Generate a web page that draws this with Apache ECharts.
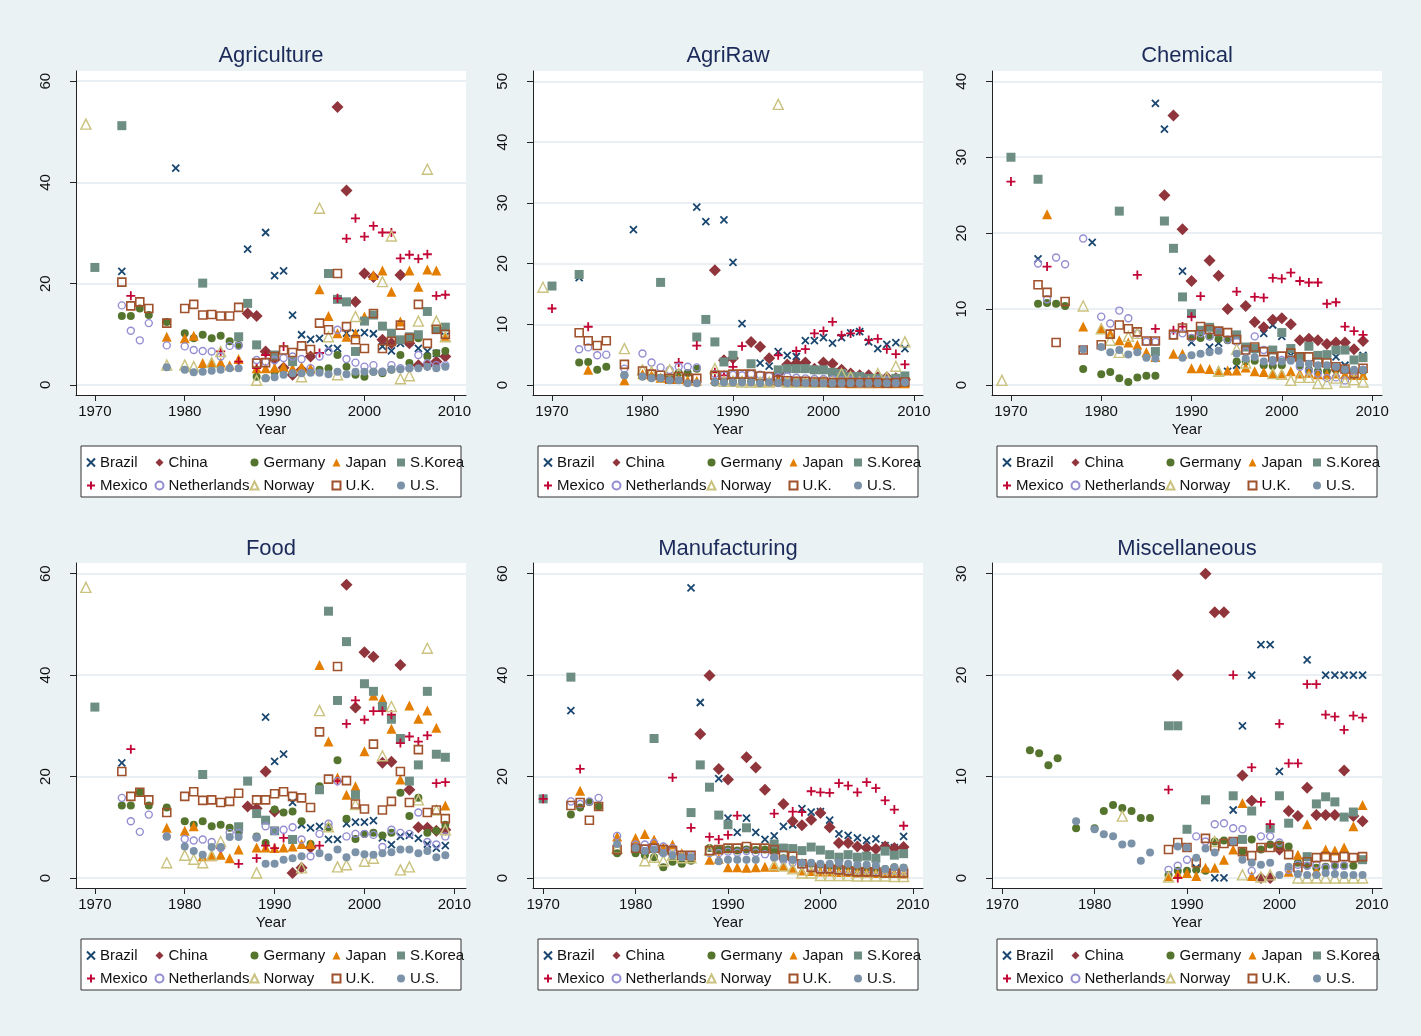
<!DOCTYPE html>
<html>
<head>
<meta charset="utf-8">
<script src="https://cdn.jsdelivr.net/npm/echarts@6/dist/echarts.min.js"></script>
<style>
  html, body { margin: 0; padding: 0; background: #eaf2f3; }
  #main { width: 1421px; height: 1036px; }
</style>
</head>
<body>
<div id="main"></div>
<script type="text/javascript">
// ---- data: [year, value] pairs ----
const panels = ['Agriculture', 'AgriRaw', 'Chemical', 'Food', 'Manufacturing', 'Miscellaneous'];
const countries = ['Brazil', 'China', 'Germany', 'Japan', 'S.Korea', 'Mexico', 'Netherlands', 'Norway', 'U.K.', 'U.S.'];
const xTicks = [1970, 1980, 1990, 2000, 2010];
const yTicks = [[0, 20, 40, 60], [0, 10, 20, 30, 40, 50], [0, 10, 20, 30, 40], [0, 20, 40, 60], [0, 20, 40, 60], [0, 10, 20, 30]];

// Agriculture
const agr_brazil = [[1973,22.4],[1979,42.8],[1987,26.8],[1989,30.1],[1990,21.6],[1991,22.5],[1992,13.8],[1993,9.9],[1994,9.0],[1995,9.2],[1996,7.2],[1997,7.2],[1998,10.2],[1999,10.2],[2000,10.3],[2001,10.1],[2002,7.6],[2003,6.7],[2004,8.2],[2005,8.4],[2006,7.2],[2007,6.6],[2008,6.2],[2009,9.6]];
const agr_china = [[1987,14.1],[1988,13.6],[1989,6.6],[1990,5.0],[1991,3.4],[1992,2.0],[1993,3.0],[1994,5.6],[1997,54.9],[1998,38.4],[1999,16.4],[2000,22.0],[2001,21.3],[2002,8.9],[2003,8.2],[2004,21.7],[2005,8.2],[2006,3.9],[2007,3.9],[2008,4.6],[2009,5.6]];
const agr_germany = [[1973,13.6],[1974,13.6],[1975,15.1],[1976,13.8],[1978,12.4],[1980,10.2],[1981,9.2],[1982,9.9],[1983,9.2],[1984,9.7],[1985,8.6],[1986,7.9],[1988,1.6],[1989,1.3],[1990,2.6],[1991,3.0],[1992,2.3],[1993,2.8],[1994,2.6],[1995,3.0],[1996,3.3],[1997,5.9],[1998,3.6],[1999,2.0],[2000,1.6],[2001,2.6],[2002,2.3],[2003,3.0],[2004,5.9],[2005,4.3],[2006,9.2],[2007,5.6],[2008,6.3],[2009,6.7]];
const agr_japan = [[1978,9.5],[1980,9.2],[1981,9.7],[1982,4.3],[1983,4.4],[1984,4.4],[1985,3.9],[1986,5.1],[1988,3.3],[1989,3.3],[1990,3.4],[1991,3.6],[1992,3.3],[1993,3.6],[1994,3.3],[1995,18.9],[1996,13.6],[1997,10.2],[1998,9.5],[1999,10.2],[2000,13.5],[2001,21.7],[2002,22.6],[2003,18.4],[2004,12.5],[2005,22.6],[2006,19.4],[2007,22.8],[2008,22.6],[2009,9.7]];
const agr_skorea = [[1970,23.2],[1973,51.2],[1982,20.1],[1986,9.5],[1987,16.1],[1988,7.9],[1990,5.9],[1992,4.6],[1996,22.0],[1997,16.9],[1998,16.4],[1999,6.6],[2000,12.6],[2001,13.8],[2002,11.6],[2003,10.2],[2004,8.9],[2005,9.5],[2006,9.9],[2007,14.5],[2008,10.9],[2009,11.4]];
const agr_mexico = [[1974,17.6],[1984,6.6],[1986,4.6],[1988,3.3],[1989,5.9],[1991,7.6],[1995,6.3],[1997,17.1],[1998,28.9],[1999,32.9],[2000,29.3],[2001,31.4],[2002,30.1],[2003,30.1],[2004,25.0],[2005,25.7],[2006,24.9],[2007,25.8],[2008,17.6],[2009,17.8]];
const agr_netherlands = [[1973,15.7],[1974,10.7],[1975,8.8],[1976,12.2],[1978,7.8],[1980,7.6],[1981,6.9],[1982,6.7],[1983,6.6],[1984,5.6],[1985,7.7],[1986,7.7],[1988,4.9],[1989,4.6],[1990,4.9],[1991,5.3],[1992,5.6],[1993,5.1],[1994,3.3],[1995,5.6],[1996,6.6],[1997,10.9],[1998,5.1],[1999,4.4],[2000,3.6],[2001,3.9],[2002,2.6],[2003,3.9],[2004,3.3],[2005,3.3],[2006,5.9],[2007,4.3],[2008,3.9],[2009,3.9]];
const agr_norway = [[1969,51.5],[1978,3.9],[1980,3.9],[1981,3.6],[1983,4.4],[1984,6.6],[1988,0.9],[1993,1.6],[1995,34.9],[1996,9.5],[1997,2.0],[1999,13.5],[2002,20.4],[2003,29.4],[2004,1.2],[2005,1.8],[2006,12.6],[2007,42.6],[2008,12.6],[2009,9.5]];
const agr_uk = [[1973,20.3],[1974,15.6],[1975,16.4],[1976,15.1],[1978,12.2],[1980,15.1],[1981,15.9],[1982,13.8],[1983,13.9],[1984,13.6],[1985,13.6],[1986,15.3],[1988,4.3],[1989,4.4],[1990,5.6],[1991,6.9],[1992,6.4],[1993,7.7],[1994,7.0],[1995,12.2],[1996,10.9],[1997,22.0],[1998,11.5],[1999,8.9],[2000,7.2],[2001,14.1],[2002,7.2],[2003,8.6],[2004,11.8],[2005,9.2],[2006,15.9],[2007,8.2],[2008,11.0],[2009,10.0]];
const agr_us = [[1978,3.5],[1980,3.0],[1981,2.5],[1982,2.6],[1983,2.8],[1984,3.0],[1985,3.3],[1986,3.3],[1989,1.3],[1990,1.5],[1991,2.0],[1992,2.3],[1993,2.3],[1994,2.4],[1995,2.4],[1996,2.1],[1997,2.6],[1998,2.1],[1999,2.6],[2000,2.6],[2001,2.6],[2002,2.6],[2003,3.1],[2004,3.1],[2005,3.3],[2006,3.3],[2007,3.6],[2008,3.3],[2009,3.6]];

// AgriRaw
const raw_brazil = [[1973,17.7],[1979,25.6],[1986,29.3],[1987,26.9],[1989,27.2],[1990,20.2],[1991,10.1],[1993,3.6],[1994,3.1],[1995,5.5],[1996,4.9],[1997,4.7],[1998,7.3],[1999,7.3],[2000,7.8],[2001,6.9],[2002,7.8],[2003,8.6],[2004,8.8],[2005,7.1],[2006,6.0],[2007,6.7],[2008,7.0],[2009,6.0]];
const raw_china = [[1988,18.9],[1989,4.1],[1990,4.4],[1992,7.1],[1993,6.3],[1994,4.4],[1995,1.9],[1996,3.4],[1997,3.6],[1998,3.7],[1999,2.7],[2000,3.7],[2001,3.5],[2002,2.5],[2003,1.9],[2004,1.6],[2005,1.6],[2006,1.3],[2007,1.3],[2008,1.1],[2009,0.9]];
const raw_germany = [[1973,3.7],[1974,3.8],[1975,2.5],[1976,3.0],[1978,1.6],[1980,1.4],[1981,1.3],[1982,1.2],[1983,1.1],[1984,2.0],[1985,2.0],[1986,2.7],[1988,0.4],[1989,0.6],[1990,0.6],[1991,0.6],[1992,0.6],[1993,0.5],[1994,0.5],[1995,0.5],[1996,0.5],[1997,0.5],[1998,0.4],[1999,0.4],[2000,0.4],[2001,0.4],[2002,0.4],[2003,0.4],[2004,0.4],[2005,0.4],[2006,0.4],[2007,0.4],[2008,0.4],[2009,0.4]];
const raw_japan = [[1974,2.5],[1978,0.8],[1980,1.8],[1981,1.6],[1982,1.2],[1983,1.0],[1984,1.0],[1985,0.8],[1986,0.7],[1988,1.0],[1989,0.9],[1990,0.8],[1991,0.8],[1992,0.7],[1993,0.6],[1994,0.6],[1995,0.6],[1996,0.5],[1997,0.5],[1998,0.5],[1999,0.4],[2000,0.9],[2001,0.4],[2002,0.4],[2003,0.3],[2004,0.3],[2005,0.3],[2006,0.3],[2007,0.3],[2008,0.3],[2009,0.3]];
const raw_skorea = [[1970,16.3],[1973,18.2],[1982,16.9],[1986,7.9],[1987,10.8],[1988,7.1],[1989,3.8],[1990,4.9],[1992,3.5],[1995,2.5],[1996,2.7],[1997,2.7],[1998,2.7],[1999,2.5],[2000,2.5],[2001,2.1],[2002,1.9],[2003,1.4],[2004,1.4],[2005,1.1],[2006,1.1],[2007,0.8],[2008,1.1],[2009,1.5]];
const raw_mexico = [[1970,12.6],[1974,9.6],[1984,3.7],[1986,6.5],[1988,2.1],[1989,1.6],[1990,3.0],[1991,6.4],[1995,4.9],[1997,5.6],[1998,5.9],[1999,8.5],[2000,8.9],[2001,10.4],[2002,8.2],[2003,8.5],[2004,8.9],[2005,7.4],[2006,7.6],[2007,5.9],[2008,5.1],[2009,3.4]];
const raw_netherlands = [[1973,5.9],[1974,6.2],[1975,4.9],[1976,5.0],[1978,2.7],[1980,5.2],[1981,3.7],[1982,2.9],[1983,2.5],[1984,3.0],[1985,3.0],[1986,2.9],[1988,1.8],[1989,1.6],[1990,1.7],[1991,1.6],[1992,1.8],[1993,1.7],[1994,1.5],[1995,1.3],[1996,1.4],[1997,1.2],[1998,1.1],[1999,1.0],[2000,1.0],[2001,0.9],[2002,0.8],[2003,0.8],[2004,0.7],[2005,0.7],[2006,0.8],[2007,0.7],[2008,0.7],[2009,0.6]];
const raw_norway = [[1969,16.1],[1978,6.0],[1980,2.5],[1981,2.2],[1983,2.5],[1984,1.9],[1988,2.7],[1989,0.6],[1990,0.6],[1991,0.5],[1992,0.5],[1993,0.5],[1994,0.5],[1995,46.2],[1996,0.5],[1997,0.5],[1998,0.5],[1999,0.5],[2000,0.5],[2001,0.5],[2002,1.9],[2003,1.4],[2004,0.5],[2005,0.5],[2006,1.9],[2007,1.3],[2008,3.1],[2009,7.1]];
const raw_uk = [[1973,8.6],[1974,7.3],[1975,6.5],[1976,7.3],[1978,3.4],[1980,2.3],[1981,1.8],[1982,1.6],[1983,1.1],[1984,1.4],[1985,1.1],[1986,1.1],[1988,1.6],[1989,1.6],[1990,1.8],[1991,1.8],[1992,1.8],[1993,1.5],[1994,1.4],[1995,0.8],[1996,0.7],[1997,0.6],[1998,0.6],[1999,0.5],[2000,0.5],[2001,0.4],[2002,0.4],[2003,0.4],[2004,0.4],[2005,0.4],[2006,0.4],[2007,0.3],[2008,0.4],[2009,0.5]];
const raw_us = [[1978,1.6],[1980,1.4],[1981,1.1],[1982,1.1],[1983,0.8],[1984,0.8],[1985,0.3],[1986,0.3],[1988,0.5],[1989,0.4],[1990,0.4],[1991,0.4],[1992,0.4],[1993,0.3],[1994,0.4],[1995,0.3],[1996,0.3],[1997,0.3],[1998,0.3],[1999,0.3],[2000,0.3],[2001,0.3],[2002,0.3],[2003,0.3],[2004,0.3],[2005,0.3],[2006,0.3],[2007,0.3],[2008,0.3],[2009,0.4]];

// Chemical
const chm_brazil = [[1973,16.6],[1979,18.8],[1986,37.1],[1987,33.7],[1989,15.0],[1990,5.6],[1991,7.2],[1992,5.0],[1993,5.5],[1994,1.8],[1995,2.6],[1998,6.8],[1999,7.9],[2000,6.4],[2001,3.9],[2006,3.7],[2007,2.6],[2009,3.9]];
const chm_china = [[1987,25.0],[1988,35.5],[1989,20.5],[1990,13.7],[1992,16.4],[1993,14.4],[1994,10.0],[1996,10.4],[1997,8.3],[1998,7.6],[1999,8.6],[2000,8.8],[2001,8.0],[2002,5.9],[2003,6.1],[2004,5.9],[2005,5.4],[2006,5.6],[2007,5.6],[2008,4.7],[2009,5.8]];
const chm_germany = [[1973,10.7],[1974,10.8],[1975,10.7],[1976,10.4],[1978,2.1],[1980,1.4],[1981,1.7],[1982,0.9],[1983,0.4],[1984,1.0],[1985,1.2],[1986,1.2],[1990,6.2],[1991,6.2],[1992,6.4],[1993,6.1],[1994,5.9],[1995,3.1],[1996,3.1],[1997,3.2],[1998,2.6],[1999,2.5],[2000,2.6],[2001,3.5],[2002,2.6],[2003,2.0],[2004,1.8],[2005,1.8],[2006,2.0],[2007,1.9],[2008,1.8],[2009,1.8]];
const chm_japan = [[1974,22.5],[1978,7.7],[1980,7.5],[1981,6.8],[1982,5.9],[1983,5.6],[1984,5.3],[1985,4.3],[1986,3.7],[1988,4.1],[1989,4.1],[1990,2.2],[1991,2.2],[1992,2.1],[1993,1.9],[1994,1.9],[1995,1.9],[1996,2.3],[1997,1.8],[1998,1.7],[1999,1.5],[2000,1.5],[2001,1.8],[2002,1.5],[2003,1.6],[2004,1.4],[2005,1.4],[2006,1.5],[2007,1.4],[2008,1.3],[2009,1.3]];
const chm_skorea = [[1970,30.0],[1973,27.1],[1982,22.9],[1986,4.4],[1987,21.6],[1988,18.0],[1989,11.6],[1990,9.4],[1991,7.2],[1992,7.6],[1993,7.0],[1995,6.6],[1996,5.0],[1997,4.8],[1999,4.6],[2000,6.9],[2001,4.8],[2002,3.7],[2003,5.1],[2004,3.9],[2005,4.0],[2006,4.6],[2007,4.6],[2008,3.3],[2009,3.6]];
const chm_mexico = [[1970,26.8],[1974,15.6],[1984,14.5],[1986,7.4],[1988,7.2],[1989,7.7],[1990,9.0],[1991,11.7],[1995,12.3],[1997,11.6],[1998,11.5],[1999,14.1],[2000,14.0],[2001,14.8],[2002,13.7],[2003,13.5],[2004,13.5],[2005,10.7],[2006,10.9],[2007,7.7],[2008,7.1],[2009,6.6]];
const chm_netherlands = [[1973,16.0],[1974,11.3],[1975,16.8],[1976,15.9],[1978,19.3],[1980,9.0],[1981,8.1],[1982,9.8],[1983,8.8],[1984,6.8],[1985,5.7],[1986,5.7],[1988,6.5],[1989,6.8],[1990,6.2],[1991,6.8],[1992,6.4],[1993,7.0],[1994,6.0],[1995,5.7],[1996,4.4],[1997,6.4],[1998,4.6],[1999,3.1],[2000,3.3],[2001,3.4],[2002,2.4],[2003,1.8],[2004,1.5],[2005,0.9],[2006,1.0],[2007,0.6],[2008,1.8],[2009,2.0]];
const chm_norway = [[1969,0.6],[1978,10.4],[1980,7.4],[1981,5.9],[1982,4.3],[1983,6.4],[1984,6.8],[1993,1.8],[1995,4.7],[1996,2.9],[1999,1.5],[2000,1.4],[2001,0.6],[2002,1.0],[2003,1.0],[2004,0.2],[2005,0.2],[2006,0.9],[2007,0.4],[2008,0.7],[2009,0.4]];
const chm_uk = [[1973,13.2],[1974,12.2],[1975,5.6],[1976,11.0],[1978,4.6],[1980,5.3],[1981,6.7],[1982,7.9],[1983,7.4],[1984,7.0],[1985,5.8],[1986,5.8],[1988,6.6],[1989,7.5],[1990,6.6],[1991,7.7],[1992,7.3],[1993,7.1],[1994,6.9],[1995,6.0],[1996,4.6],[1997,5.0],[1998,4.4],[1999,3.7],[2000,3.8],[2001,4.2],[2002,3.7],[2003,3.7],[2004,3.0],[2005,2.9],[2006,2.4],[2007,2.1],[2008,1.5],[2009,2.2]];
const chm_us = [[1978,4.7],[1980,5.0],[1981,4.3],[1982,4.6],[1983,4.0],[1984,4.3],[1985,3.6],[1986,3.5],[1989,3.6],[1990,3.9],[1991,4.1],[1992,4.3],[1993,4.5],[1995,4.1],[1996,3.5],[1997,3.7],[1998,3.1],[1999,3.3],[2000,3.1],[2001,3.2],[2002,2.9],[2003,2.8],[2004,2.6],[2005,2.6],[2006,2.4],[2007,2.0],[2008,2.0],[2009,2.0]];

// Food
const fd_brazil = [[1973,22.7],[1989,31.7],[1990,23.0],[1991,24.4],[1992,14.9],[1993,10.5],[1994,9.9],[1995,10.2],[1996,7.6],[1997,7.6],[1998,10.7],[1999,11.0],[2000,11.0],[2001,11.3],[2002,7.9],[2003,6.6],[2004,8.2],[2005,8.4],[2006,7.8],[2007,6.7],[2008,5.9],[2009,6.4]];
const fd_china = [[1987,14.1],[1988,13.7],[1989,21.0],[1990,13.1],[1992,1.0],[1993,2.0],[1994,6.0],[1998,57.8],[1999,33.6],[2000,44.5],[2001,43.6],[2002,22.7],[2003,22.9],[2004,42.0],[2005,17.4],[2006,10.0],[2007,9.9],[2008,9.3],[2009,9.5]];
const fd_germany = [[1973,14.3],[1974,14.3],[1975,16.9],[1976,14.3],[1978,13.9],[1980,11.2],[1981,10.5],[1982,11.2],[1983,10.2],[1984,10.5],[1985,9.9],[1986,9.0],[1988,8.2],[1989,6.9],[1990,13.5],[1991,12.9],[1992,13.1],[1993,11.2],[1994,6.7],[1995,18.1],[1996,10.0],[1997,23.2],[1998,11.7],[1999,7.7],[2000,8.7],[2001,8.9],[2002,8.4],[2003,8.9],[2004,16.8],[2005,12.2],[2006,15.8],[2007,8.9],[2008,9.3],[2009,10.5]];
const fd_japan = [[1978,9.9],[1980,9.3],[1981,10.2],[1982,4.3],[1983,4.3],[1984,4.6],[1985,3.9],[1986,5.6],[1988,6.0],[1989,6.0],[1990,5.9],[1991,6.0],[1992,6.2],[1993,6.7],[1994,6.7],[1995,42.0],[1996,26.9],[1997,19.8],[1998,16.4],[1999,18.1],[2000,25.0],[2001,36.0],[2002,35.3],[2003,29.4],[2004,19.4],[2005,34.0],[2006,31.4],[2007,33.0],[2008,29.6],[2009,14.3]];
const fd_skorea = [[1970,33.7],[1982,20.4],[1986,10.1],[1987,19.1],[1988,12.7],[1989,11.4],[1990,9.3],[1992,7.6],[1995,17.4],[1996,52.6],[1997,35.0],[1998,46.6],[1999,16.4],[2000,38.3],[2001,36.8],[2002,33.8],[2003,31.3],[2004,27.5],[2005,19.1],[2006,22.3],[2007,36.8],[2008,24.4],[2009,23.8]];
const fd_mexico = [[1974,25.4],[1984,5.9],[1986,2.8],[1988,3.9],[1989,6.4],[1990,5.9],[1991,7.9],[1995,6.4],[1997,19.1],[1998,30.4],[1999,35.0],[2000,31.2],[2001,32.9],[2002,32.9],[2003,32.2],[2004,26.6],[2005,27.9],[2006,26.9],[2007,28.1],[2008,18.7],[2009,18.9]];
const fd_netherlands = [[1973,15.8],[1974,11.2],[1975,9.1],[1976,12.5],[1978,8.2],[1980,7.7],[1981,7.4],[1982,7.6],[1983,7.1],[1984,5.9],[1985,8.9],[1986,8.9],[1988,8.0],[1989,10.2],[1990,9.3],[1991,9.5],[1992,10.0],[1993,7.6],[1994,4.3],[1995,8.7],[1996,10.7],[1997,19.1],[1998,8.2],[1999,8.7],[2000,8.7],[2001,8.5],[2002,6.1],[2003,9.5],[2004,8.9],[2005,8.7],[2006,12.9],[2007,7.1],[2008,6.6],[2009,8.2]];
const fd_norway = [[1969,57.3],[1978,3.0],[1980,4.5],[1981,3.7],[1982,3.0],[1983,4.5],[1984,7.2],[1988,1.0],[1993,2.0],[1995,33.0],[1996,10.1],[1997,2.2],[1998,2.6],[1999,14.5],[2000,3.3],[2001,3.9],[2002,24.1],[2003,33.8],[2004,1.6],[2005,2.2],[2006,15.4],[2007,45.3],[2008,13.4],[2009,9.5]];
const fd_uk = [[1973,21.0],[1974,16.1],[1975,16.9],[1976,15.4],[1978,12.9],[1980,16.1],[1981,17.0],[1982,15.3],[1983,15.4],[1984,14.9],[1985,15.1],[1986,16.7],[1988,15.4],[1989,15.4],[1990,16.6],[1991,17.0],[1992,16.1],[1993,15.8],[1994,13.9],[1995,28.8],[1996,19.5],[1997,41.7],[1998,19.2],[1999,14.6],[2000,13.6],[2001,26.4],[2002,13.4],[2003,15.1],[2004,21.0],[2005,14.9],[2006,25.3],[2007,12.9],[2008,13.4],[2009,11.7]];
const fd_us = [[1978,8.2],[1980,6.2],[1981,5.3],[1982,4.6],[1983,6.1],[1984,6.1],[1985,8.1],[1986,8.1],[1988,8.0],[1989,2.8],[1990,2.8],[1991,3.6],[1992,3.9],[1993,4.3],[1995,4.9],[1996,4.1],[1997,5.6],[1998,4.1],[1999,5.1],[2000,4.7],[2001,4.6],[2002,4.9],[2003,5.1],[2004,5.6],[2005,5.6],[2006,4.9],[2007,5.3],[2008,4.1],[2009,4.5]];

// Manufacturing
const mf_brazil = [[1973,33.0],[1986,57.2],[1987,34.6],[1989,19.6],[1990,11.8],[1991,9.0],[1992,11.8],[1993,9.0],[1994,7.6],[1995,8.3],[1996,10.2],[1997,10.5],[1998,13.7],[1999,13.0],[2000,13.1],[2001,11.4],[2002,8.7],[2003,8.4],[2004,7.9],[2005,7.4],[2006,7.7],[2007,6.4],[2008,6.0],[2009,8.2]];
const mf_china = [[1987,28.4],[1988,39.9],[1989,21.5],[1990,19.4],[1992,23.8],[1993,21.8],[1994,17.4],[1996,14.6],[1997,11.2],[1998,10.4],[1999,11.5],[2000,12.8],[2001,10.0],[2002,6.9],[2003,6.9],[2004,6.2],[2005,5.9],[2006,5.7],[2007,6.2],[2008,5.9],[2009,6.1]];
const mf_germany = [[1973,12.5],[1974,13.9],[1975,15.0],[1976,14.1],[1978,4.9],[1980,4.9],[1981,4.5],[1982,4.1],[1983,2.1],[1984,3.2],[1985,2.8],[1986,3.4],[1988,5.9],[1989,5.6],[1990,5.6],[1991,5.4],[1992,5.6],[1993,5.5],[1994,5.6],[1995,5.3],[1996,3.9],[1997,3.6],[1998,3.0],[1999,2.8],[2000,2.6],[2001,2.4],[2002,2.3],[2003,2.3],[2004,2.1],[2005,2.0],[2006,1.9],[2007,1.8],[2008,2.1],[2009,2.0]];
const mf_japan = [[1974,17.2],[1978,8.2],[1980,7.9],[1981,8.7],[1982,7.6],[1983,6.0],[1984,6.6],[1985,4.9],[1986,4.3],[1988,3.6],[1989,3.8],[1990,2.1],[1991,2.1],[1992,2.0],[1993,2.1],[1994,2.2],[1995,2.2],[1996,2.3],[1997,2.0],[1998,1.5],[1999,1.4],[2000,1.3],[2001,1.3],[2002,1.2],[2003,1.2],[2004,1.1],[2005,1.1],[2006,1.0],[2007,1.0],[2008,1.0],[2009,0.9]];
const mf_skorea = [[1970,15.6],[1973,39.6],[1982,27.5],[1986,12.9],[1987,22.3],[1988,17.9],[1989,12.4],[1990,10.5],[1992,9.9],[1995,6.7],[1996,5.9],[1997,5.8],[1998,5.4],[1999,6.1],[2000,5.5],[2001,4.6],[2002,4.1],[2003,4.6],[2004,4.1],[2005,4.3],[2006,3.9],[2007,5.3],[2008,4.5],[2009,4.8]];
const mf_mexico = [[1970,15.6],[1974,21.5],[1984,19.8],[1986,9.9],[1988,8.1],[1989,7.6],[1990,8.5],[1991,12.3],[1995,12.7],[1997,13.1],[1998,13.0],[1999,17.1],[2000,16.9],[2001,16.8],[2002,18.7],[2003,18.2],[2004,16.9],[2005,18.9],[2006,17.7],[2007,15.3],[2008,13.5],[2009,10.3]];
const mf_netherlands = [[1973,15.1],[1974,14.6],[1975,15.1],[1976,15.8],[1978,8.3],[1980,6.6],[1981,6.6],[1982,6.9],[1983,6.2],[1984,5.9],[1985,4.6],[1986,4.5],[1988,4.9],[1989,4.9],[1990,5.2],[1991,5.0],[1992,5.3],[1993,5.0],[1994,4.7],[1995,4.0],[1996,3.5],[1997,3.0],[1998,2.5],[1999,2.0],[2000,1.8],[2001,1.7],[2002,1.6],[2003,1.6],[2004,1.5],[2005,1.5],[2006,1.4],[2007,1.4],[2008,1.4],[2009,1.3]];
const mf_norway = [[1978,5.9],[1981,3.4],[1982,4.1],[1983,3.4],[1984,4.5],[1985,4.0],[1986,4.0],[1988,5.5],[1995,2.6],[1996,2.4],[1997,1.8],[1998,1.0],[1999,1.0],[2000,0.5],[2001,0.5],[2002,0.5],[2003,0.5],[2004,0.4],[2005,0.4],[2006,0.4],[2007,0.4],[2008,0.3],[2009,0.3]];
const mf_uk = [[1973,14.3],[1974,14.9],[1975,11.4],[1976,14.1],[1978,5.6],[1980,5.9],[1981,5.7],[1982,5.9],[1983,5.6],[1984,5.4],[1985,4.5],[1986,4.5],[1988,5.4],[1989,5.6],[1990,5.9],[1991,5.9],[1992,6.2],[1993,5.9],[1994,5.9],[1995,5.6],[1996,4.5],[1997,4.3],[1998,2.8],[1999,2.1],[2000,1.8],[2001,1.8],[2002,1.6],[2003,1.4],[2004,1.2],[2005,1.2],[2006,1.2],[2007,1.0],[2008,1.0],[2009,1.0]];
const mf_us = [[1978,6.7],[1980,5.9],[1981,5.3],[1982,5.6],[1983,4.9],[1984,4.5],[1985,4.1],[1986,4.1],[1989,3.3],[1990,3.6],[1991,3.6],[1992,3.6],[1993,3.6],[1995,4.1],[1996,3.8],[1997,3.6],[1998,3.0],[1999,3.0],[2000,2.8],[2001,2.8],[2002,3.0],[2003,2.8],[2004,2.6],[2005,2.6],[2006,2.5],[2007,1.8],[2008,2.1],[2009,2.0]];

// Miscellaneous
const ms_brazil = [[1991,1.0],[1993,0.0],[1994,0.0],[1995,6.7],[1996,15.0],[1997,20.0],[1998,23.0],[1999,23.0],[2000,10.5],[2003,21.5],[2005,20.0],[2006,20.0],[2007,20.0],[2008,20.0],[2009,20.0]];
const ms_china = [[1989,20.0],[1992,30.0],[1993,26.2],[1994,26.2],[1996,10.1],[1997,7.6],[1998,0.0],[1999,0.0],[2000,2.8],[2001,6.6],[2002,6.1],[2003,8.9],[2004,6.2],[2005,6.2],[2006,6.2],[2007,10.6],[2008,6.1],[2009,5.6]];
const ms_germany = [[1973,12.6],[1974,12.3],[1975,11.1],[1976,11.8],[1978,4.9],[1980,4.9],[1981,6.6],[1982,7.2],[1983,6.9],[1984,6.6],[1985,5.9],[1986,5.9],[1988,0.3],[1989,0.7],[1990,0.7],[1991,0.8],[1992,0.7],[1993,3.6],[1994,3.7],[1995,3.6],[1996,2.6],[1997,3.8],[1998,2.8],[1999,3.3],[2000,3.3],[2001,3.1],[2002,1.5],[2003,1.2],[2004,1.0],[2005,1.1],[2006,1.2],[2007,1.2],[2008,1.2]];
const ms_japan = [[1988,0.2],[1989,0.4],[1990,0.5],[1991,0.2],[1992,1.0],[1993,1.0],[1994,1.8],[1995,2.8],[1996,7.4],[1997,0.2],[2001,0.6],[2002,2.3],[2003,5.3],[2004,0.7],[2005,2.8],[2006,2.7],[2007,3.0],[2008,5.1],[2009,7.2]];
const ms_skorea = [[1988,15.0],[1989,15.0],[1990,4.8],[1992,7.7],[1995,8.1],[1996,3.8],[1997,6.6],[1999,4.9],[2000,8.1],[2001,5.4],[2003,2.1],[2004,7.3],[2005,8.0],[2006,7.5],[2007,6.0],[2008,6.5],[2009,1.8]];
const ms_mexico = [[1988,8.7],[1989,0.0],[1995,20.0],[1997,10.9],[1998,7.5],[1999,5.3],[2000,15.2],[2001,11.3],[2002,11.3],[2003,19.1],[2004,19.1],[2005,16.1],[2006,15.9],[2007,14.6],[2008,16.0],[2009,15.8]];
const ms_netherlands = [[1988,0.8],[1989,1.2],[1990,1.8],[1991,4.1],[1992,3.6],[1993,5.3],[1994,5.4],[1995,4.9],[1996,4.8],[1997,0.7],[1998,4.1],[1999,4.1],[2000,3.5],[2001,0.8],[2002,1.3],[2003,1.2],[2004,1.3],[2005,1.0],[2006,1.2],[2007,1.2]];
const ms_norway = [[1983,6.1],[1988,0.1],[1993,3.6],[1996,0.3],[1998,0.1],[1999,0.3],[2002,0.0],[2003,0.0],[2004,0.0],[2005,0.0],[2006,0.0],[2007,0.0],[2008,0.0],[2009,0.0]];
const ms_uk = [[1988,2.8],[1989,3.5],[1990,3.0],[1991,1.5],[1992,3.9],[1993,3.1],[1994,3.4],[1995,3.6],[1996,2.6],[1997,2.2],[1998,3.0],[1999,3.0],[2000,3.1],[2001,2.3],[2002,1.0],[2003,1.6],[2004,2.0],[2005,2.1],[2006,2.0],[2007,2.1],[2008,2.0],[2009,2.1]];
const ms_us = [[1978,5.6],[1980,4.8],[1981,4.3],[1982,4.1],[1983,3.3],[1984,3.4],[1985,1.7],[1986,2.5],[1989,3.1],[1990,3.0],[1991,2.0],[1992,2.9],[1993,2.5],[1995,3.6],[1996,1.8],[1997,1.5],[1998,1.3],[1999,1.5],[2000,0.3],[2001,1.1],[2002,0.4],[2003,0.3],[2004,0.3],[2005,0.5],[2006,0.4],[2007,0.3],[2008,0.3],[2009,0.3]];

const panelData = [
  [agr_brazil, agr_china, agr_germany, agr_japan, agr_skorea, agr_mexico, agr_netherlands, agr_norway, agr_uk, agr_us],
  [raw_brazil, raw_china, raw_germany, raw_japan, raw_skorea, raw_mexico, raw_netherlands, raw_norway, raw_uk, raw_us],
  [chm_brazil, chm_china, chm_germany, chm_japan, chm_skorea, chm_mexico, chm_netherlands, chm_norway, chm_uk, chm_us],
  [fd_brazil, fd_china, fd_germany, fd_japan, fd_skorea, fd_mexico, fd_netherlands, fd_norway, fd_uk, fd_us],
  [mf_brazil, mf_china, mf_germany, mf_japan, mf_skorea, mf_mexico, mf_netherlands, mf_norway, mf_uk, mf_us],
  [ms_brazil, ms_china, ms_germany, ms_japan, ms_skorea, ms_mexico, ms_netherlands, ms_norway, ms_uk, ms_us]
];

// ---- layout / style ----
const FONT = '"Liberation Sans", Arial, Helvetica, sans-serif';
const gridPos = [[76, 71, 324], [533, 71, 324], [992, 71, 324], [76, 563, 325], [533, 563, 325], [992, 563, 325]];
const GRID_W = 390;
const xRange = [[1967.9, 2011.3], [1967.9, 2011.0], [1967.9, 2011.1], [1967.9, 2011.3], [1968.9, 2011.1], [1968.9, 2011.1]];
const yRange = [[-2.0, 62.0], [-1.64, 51.7], [-1.32, 41.36], [-1.97, 62.1], [-1.97, 62.1], [-0.99, 31.05]];
const titleTop = [45, 45, 45, 538, 538, 538];
const legendTop = [446, 446, 446, 939, 939, 939];
const legendCols = [9, 77.5, 172.5, 254.5, 320];

const X_PATH = 'path://M0,0L10,10M10,0L0,10';
const PLUS_PATH = 'path://M5,0L5,10M0,5L10,5';
const CLEAR = 'rgba(0,0,0,0)';
const markers = {
  'Brazil':      { symbol: X_PATH,     size: 7,  color: '#1a476f', stroke: 1.8 },
  'China':       { symbol: 'diamond',  size: 12, color: '#90353b' },
  'Germany':     { symbol: 'circle',   size: 8,  color: '#55752f' },
  'Japan':       { symbol: 'triangle', size: 10, color: '#e37e00' },
  'S.Korea':     { symbol: 'rect',     size: 9,  color: '#6e8e84' },
  'Mexico':      { symbol: PLUS_PATH,  size: 9,  color: '#c10534', stroke: 1.8 },
  'Netherlands': { symbol: 'circle',   size: 7,  color: '#938dd2', stroke: 1.4 },
  'Norway':      { symbol: 'triangle', size: 10, color: '#cac27e', stroke: 1.4 },
  'U.K.':        { symbol: 'rect',     size: 8,  color: '#a0522d', stroke: 1.6 },
  'U.S.':        { symbol: 'circle',   size: 8,  color: '#7b92a8' }
};

function itemStyleFor(m) {
  if (m.stroke) return { color: CLEAR, borderColor: m.color, borderWidth: m.stroke, opacity: 1 };
  return { color: m.color, borderWidth: 0, opacity: 1 };
}

const grids = [], xAxes = [], yAxes = [], titles = [], legends = [], series = [], boxes = [];

panels.forEach(function (name, p) {
  const g = gridPos[p];
  grids.push({ left: g[0], top: g[1], width: GRID_W, height: g[2], show: true, backgroundColor: '#ffffff', borderWidth: 0 });
  xAxes.push({
    type: 'value', gridIndex: p, min: xRange[p][0], max: xRange[p][1],
    name: 'Year', nameLocation: 'middle', nameGap: 27,
    nameTextStyle: { fontFamily: FONT, fontSize: 15, color: '#111' },
    axisLine: { show: true, onZero: false, lineStyle: { color: '#222', width: 1 } },
    axisTick: { show: true, length: 6, customValues: xTicks, lineStyle: { color: '#222' } },
    axisLabel: { customValues: xTicks, fontFamily: FONT, fontSize: 15, color: '#111', margin: 9,
      formatter: function (v) { return String(Math.round(v)); } },
    splitLine: { show: false }
  });
  yAxes.push({
    type: 'value', gridIndex: p, min: yRange[p][0], max: yRange[p][1],
    axisLine: { show: true, onZero: false, lineStyle: { color: '#222', width: 1 } },
    axisTick: { show: true, length: 6, customValues: yTicks[p], lineStyle: { color: '#222' } },
    axisLabel: { customValues: yTicks[p], rotate: 90, fontFamily: FONT, fontSize: 15, color: '#111', margin: 23,
      formatter: function (v) { return String(Math.round(v)); } },
    splitLine: { show: true, lineStyle: { color: '#e2eaee', width: 1.5 } }
  });
  titles.push({
    text: name, left: g[0] + GRID_W / 2, top: titleTop[p], textAlign: 'center', padding: 0,
    textStyle: { fontFamily: FONT, fontSize: 22, fontWeight: 'normal', color: '#1c2a5a' }
  });

  const boxLeft = g[0] + 5;
  boxes.push({
    type: 'rect', z: 1,
    shape: { x: boxLeft, y: legendTop[p], width: 380, height: 51 },
    style: { fill: '#ffffff', stroke: '#333333', lineWidth: 1 }
  });
  legendCols.forEach(function (off, c) {
    legends.push({
      data: [countries[c], countries[c + 5]],
      orient: 'vertical', left: boxLeft + off - 4, top: legendTop[p] + 9,
      padding: 0, itemWidth: 8, itemHeight: 8, itemGap: 8, z: 5,
      selectedMode: false,
      textStyle: { fontFamily: FONT, fontSize: 15, color: '#111', lineHeight: 15 }
    });
  });

  countries.forEach(function (c, k) {
    const m = markers[c];
    series.push({
      type: 'scatter', name: c, xAxisIndex: p, yAxisIndex: p,
      data: panelData[p][k],
      symbol: m.symbol, symbolSize: m.size,
      itemStyle: itemStyleFor(m),
      emphasis: { disabled: true },
      z: 2 + k * 0.01
    });
  });
});

const chart = echarts.init(document.getElementById('main'), null, { renderer: 'canvas' });
chart.setOption({
  backgroundColor: '#eaf2f3',
  animation: false,
  title: titles,
  legend: legends,
  grid: grids,
  xAxis: xAxes,
  yAxis: yAxes,
  graphic: { elements: boxes },
  series: series
});
</script>
</body>
</html>
